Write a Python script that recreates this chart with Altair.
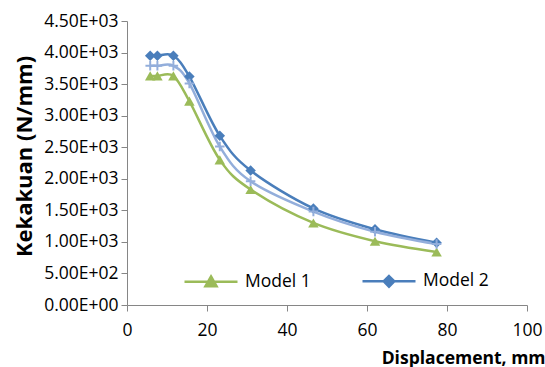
import altair as alt
import pandas as pd

# ---- data ----
displacement = [5.8, 7.6, 11.6, 15.6, 23.2, 30.9, 46.6, 62.0, 77.4]
model1 = [3630, 3630, 3630, 3230, 2300, 1830, 1300, 1010, 840]
model2 = [3950, 3950, 3950, 3620, 2680, 2130, 1530, 1200, 985]
model3 = [3790, 3790, 3790, 3510, 2510, 1960, 1480, 1160, 965]
series_names = ["Model 1", "Model 2", "Model 3"]
legend_names = ["Model 1", "Model 2"]
colors = ["#9BBB59", "#4A7EBB", "#93AEDB"]
x_ticks = [0, 20, 40, 60, 80, 100]
y_ticks = [0, 500, 1000, 1500, 2000, 2500, 3000, 3500, 4000, 4500]

rows = []
for name, vals in zip(series_names, [model1, model2, model3]):
    for d, v in zip(displacement, vals):
        rows.append({"series": name, "d": d, "k": v})
df = pd.DataFrame(rows)

FONT = "Open Sans"
AXIS_GRAY = "#868686"

xenc = alt.X(
    "d:Q",
    scale=alt.Scale(domain=[0, 100], nice=False),
    axis=alt.Axis(
        values=x_ticks, title="Displacement, mm", grid=False, labelFlush=False,
        domainColor=AXIS_GRAY, tickColor=AXIS_GRAY, tickSize=6,
        labelFont=FONT, labelFontSize=17.5, labelColor="black", labelPadding=10,
        titleFont=FONT, titleFontSize=17.5, titleFontWeight="bold", titleColor="black",
        titleAnchor="end", titleAlign="right", titleBaseline="alphabetic",
        titleX=418, titleY=58,
    ),
)
yenc = alt.Y(
    "k:Q",
    scale=alt.Scale(domain=[0, 4500], nice=False),
    axis=alt.Axis(
        values=y_ticks, title="Kekakuan (N/mm)", grid=False, labelFlush=False,
        domainColor=AXIS_GRAY, tickColor=AXIS_GRAY, tickSize=6,
        labelExpr="replace(upper(format(datum.value, '.2e')), regexp('E\\\\+(\\\\d)$'), 'E+0$1')",
        labelFont=FONT, labelFontSize=17.5, labelColor="black", labelPadding=3,
        titleFont=FONT, titleFontSize=22, titleFontWeight="bold", titleColor="black",
        titleAngle=270, titleAlign="center", titleBaseline="alphabetic",
        titleX=-96, titleY=135,
    ),
)

base = alt.Chart(df)
layers = []
marker_shapes = ["triangle-up", "diamond", "M-1,0H1M0,-1V1"]
marker_filled = [True, True, False]
marker_sizes = [110, 110, 90]
for name, col in zip(series_names, colors):
    layers.append(
        base.transform_filter(alt.datum.series == name)
        .mark_line(interpolate="cardinal", color=col, strokeWidth=2.5)
        .encode(x=xenc, y=yenc)
    )
for name, col, shp, fil, sz in zip(series_names, colors, marker_shapes, marker_filled, marker_sizes):
    layers.append(
        base.transform_filter(alt.datum.series == name)
        .mark_point(shape=shp, filled=fil, color=col, size=sz, opacity=1, strokeWidth=2)
        .encode(x=xenc, y=yenc)
    )

legend_paths = [
    "M-1,0H1M0,-0.2L0.21,0.17L-0.21,0.17Z",
    "M-1,0H1M0,-0.2L0.2,0L0,0.2L-0.2,0Z",
]
leg = alt.Legend(
    title=None, orient="none", legendX=56, legendY=232, direction="horizontal",
    columns=2, symbolSize=2809, symbolStrokeWidth=2.5, symbolOpacity=1,
    labelFont=FONT, labelFontSize=17.5, labelColor="black", labelOffset=6,
    columnPadding=46, padding=0,
)
legend_layer = (
    base.transform_filter("false")
    .mark_point(filled=True, opacity=1)
    .encode(
        x=xenc, y=yenc,
        fill=alt.Fill("series:N", scale=alt.Scale(domain=legend_names, range=colors[:2]), legend=leg),
        stroke=alt.Stroke("series:N", scale=alt.Scale(domain=legend_names, range=colors[:2]), legend=leg),
        shape=alt.Shape("series:N", scale=alt.Scale(domain=legend_names, range=legend_paths), legend=leg),
    )
)
layers.append(legend_layer)

chart = (
    alt.layer(*layers)
    .properties(
        width=400, height=284,
        autosize=alt.AutoSizeParams(type="none"),
        padding={"left": 127, "top": 21, "right": 18, "bottom": 62},
        background="white",
    )
    .configure_view(stroke=None)
)

chart.save("out.html", embed_options={"renderer": "svg", "actions": False})
